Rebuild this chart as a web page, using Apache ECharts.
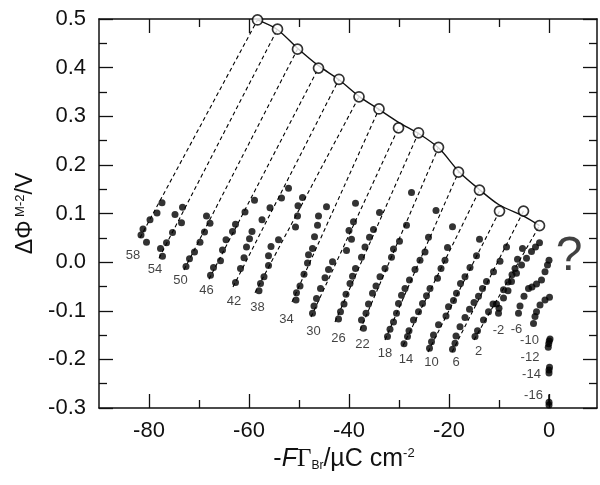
<!DOCTYPE html>
<html><head><meta charset="utf-8">
<script src="https://cdn.jsdelivr.net/npm/echarts@6/dist/echarts.min.js"></script>
<style>html,body{margin:0;padding:0;background:#fff}#c{width:600px;height:485px}</style>
</head><body><div id="c"></div>
<script>
// ---- axis ticks ----
const xTicksMajor = [-80, -60, -40, -20, 0];
const xTicksMinor = [-70, -50, -30, -10];

// ---- filled-dot series (x = -FΓBr, y = ΔΦ / V), labelled by charge ----
const s58 = [[-81.6,0.056],[-81.2,0.068],[-80.5,0.041],[-79.8,0.087],[-78.4,0.101],[-77.4,0.122]];
const s54 = [[-73.3,0.113],[-74.8,0.098],[-73.5,0.081],[-75.3,0.061],[-76.5,0.040],[-77.7,0.028],[-77.3,0.012]];
const s50 = [[-68.5,0.095],[-67.8,0.080],[-68.9,0.062],[-69.8,0.041],[-70.9,0.021],[-71.9,0.007],[-72.6,-0.009]];
const s46 = [[-67.7,-0.027],[-67.1,-0.011],[-65.7,0.003],[-65.3,0.025],[-64.6,0.046],[-63.3,0.063],[-62.7,0.078],[-60.8,0.103],[-58.9,0.127]];
const s42 = [[-62.7,-0.042],[-61.7,-0.013],[-61.0,0.009],[-60.5,0.031],[-59.9,0.048],[-59.4,0.063],[-57.4,0.087],[-55.8,0.112],[-53.5,0.132],[-52.1,0.152]];
const s38 = [[-58.0,-0.059],[-57.7,-0.044],[-57.0,-0.030],[-56.1,-0.007],[-56.1,0.013],[-55.6,0.032],[-54.1,0.046],[-50.7,0.072],[-50.3,0.095],[-50.2,0.116],[-49.3,0.133]];
const s34 = [[-50.6,-0.078],[-50.5,-0.063],[-49.8,-0.049],[-49.0,-0.025],[-48.3,-0.002],[-48.1,0.015],[-47.3,0.028],[-46.9,0.052],[-46.3,0.076],[-46.1,0.095],[-44.5,0.114]];
const s30 = [[-47.3,-0.105],[-47.0,-0.090],[-46.5,-0.075],[-45.7,-0.054],[-44.8,-0.032],[-44.1,-0.015],[-43.3,0.001],[-40.5,0.024],[-39.5,0.047],[-40.0,0.065],[-39.1,0.083],[-38.7,0.121]];
const s26 = [[-42.1,-0.117],[-41.7,-0.102],[-41.0,-0.086],[-40.6,-0.066],[-39.8,-0.044],[-39.3,-0.029],[-38.7,-0.013],[-37.5,0.010],[-36.8,0.031],[-35.9,0.051],[-35.1,0.067],[-33.9,0.102]];
const s22 = [[-37.1,-0.136],[-37.5,-0.119],[-36.6,-0.105],[-36.1,-0.086],[-35.3,-0.064],[-34.6,-0.049],[-33.8,-0.030],[-32.8,-0.013],[-31.5,0.010],[-31.1,0.027],[-29.9,0.043],[-28.5,0.076],[-27.5,0.143]];
const s18 = [[-32.3,-0.153],[-31.8,-0.138],[-31.1,-0.123],[-30.5,-0.105],[-30.1,-0.085],[-29.5,-0.068],[-28.8,-0.054],[-27.9,-0.037],[-26.8,-0.015],[-25.8,0.004],[-24.8,0.021],[-24.1,0.051],[-22.6,0.106]];
const s14 = [[-29.0,-0.168],[-28.3,-0.153],[-28.0,-0.141],[-27.1,-0.119],[-26.1,-0.102],[-25.3,-0.085],[-24.5,-0.069],[-23.8,-0.054],[-22.3,-0.033],[-21.6,-0.013],[-20.8,0.004],[-20.3,0.030],[-19.3,0.073]];
const s10 = [[-23.9,-0.177],[-23.5,-0.164],[-23.1,-0.150],[-22.1,-0.129],[-20.6,-0.111],[-20.1,-0.092],[-19.1,-0.079],[-18.5,-0.064],[-17.7,-0.044],[-16.8,-0.030],[-15.8,-0.011],[-14.5,0.013],[-13.9,0.047]];
const s6  = [[-19.3,-0.179],[-18.8,-0.167],[-18.6,-0.152],[-17.8,-0.133],[-16.8,-0.114],[-15.9,-0.097],[-15.0,-0.083],[-14.1,-0.070],[-13.3,-0.054],[-12.5,-0.040],[-11.1,-0.020],[-9.8,0.002],[-8.5,0.031]];
const s2  = [[-14.8,-0.153],[-14.3,-0.141],[-13.1,-0.119],[-12.1,-0.102],[-11.2,-0.086],[-9.1,-0.057],[-8.2,-0.041],[-7.4,-0.026],[-6.8,-0.013],[-6.3,0.006],[-5.3,0.028]];
const sM2 = [[-10.1,-0.105],[-10.0,-0.095],[-10.5,-0.086],[-9.1,-0.074],[-8.2,-0.059],[-7.5,-0.040],[-6.5,-0.023],[-5.5,-0.006],[-4.5,0.008],[-3.5,0.022],[-2.7,0.031],[-1.9,0.040]];
const sM6 = [[-6.1,-0.105],[-5.8,-0.090],[-5.0,-0.070],[-4.1,-0.054],[-3.4,-0.051],[-2.5,-0.045],[-1.5,-0.037],[-0.8,-0.020],[-0.3,-0.006],[0.0,0.004]];
const sM10 = [[-3.1,-0.126],[-2.8,-0.112],[-2.5,-0.102],[-1.8,-0.088],[-0.8,-0.078],[0.1,-0.072]];
const sM12 = [[-0.15,-0.175],[-0.05,-0.168],[0.05,-0.162],[0.2,-0.158]];
const sM14 = [[0.0,-0.228],[0.0,-0.222],[0.1,-0.216]];
const sM16 = [[0.0,-0.288],[0.0,-0.294]];
const sM16Bar = [[0.0,-0.290],[0.0,-0.272]];

// ---- open circles (extrapolated values) ----
const circleX = [-58.3,-54.3,-50.3,-46.1,-42.0,-38.0,-34.0,-30.1,-26.1,-22.1,-18.1,-13.9,-9.9,-5.1,-1.9];
const circleY = [0.498,0.479,0.438,0.399,0.376,0.340,0.315,0.276,0.266,0.236,0.185,0.148,0.105,0.105,0.075];

// ---- smooth curve through circles ----
const curveX = [-58.3,-54.3,-50.3,-46.1,-42.0,-38.0,-34.0,-30.0,-26.0,-22.0,-18.0,-14.0,-10.0,-5.0,-1.9];
const curveY = [0.498,0.478,0.440,0.404,0.375,0.341,0.314,0.287,0.264,0.234,0.186,0.150,0.118,0.094,0.075];

// ---- dashed extrapolation lines: lower ends (upper ends are the circles) ----
const dashLowX = [-81.8,-78.0,-73.0,-68.0,-63.2,-58.8,-51.4,-47.6,-42.8,-37.8,-32.8,-29.2,-24.2,-19.4,-15.0];
const dashLowY = [0.050,0.008,-0.016,-0.035,-0.051,-0.063,-0.082,-0.113,-0.123,-0.140,-0.160,-0.172,-0.185,-0.185,-0.160];

// ---- series labels ----
const labelText = ['58','54','50','46','42','38','34','30','26','22','18','14','10','6','2','-2','-6','-10','-12','-14','-16'];
const labelX = [-83.2,-78.8,-73.7,-68.5,-63.0,-58.3,-52.5,-47.1,-42.1,-37.3,-32.8,-28.6,-23.5,-18.6,-14.1,-10.1,-6.5,-3.9,-3.8,-3.5,-3.1];
const labelY = [0.013,-0.016,-0.037,-0.059,-0.080,-0.094,-0.117,-0.142,-0.157,-0.169,-0.188,-0.201,-0.207,-0.207,-0.184,-0.140,-0.138,-0.162,-0.196,-0.230,-0.275];

const questionPos = [4.0, 0.012];

const dotSets = [s58,s54,s50,s46,s42,s38,s34,s30,s26,s22,s18,s14,s10,s6,s2,sM2,sM6,sM10,sM12,sM14,sM16];

const FONT = 'Liberation Sans, Arial, sans-serif';
const INK = '#111';

const chart = echarts.init(document.getElementById('c'), null, {renderer: 'canvas'});

const mkX = (pos, ticks, len, showLine, label, extra) => Object.assign({
  type: 'value', gridIndex: 0, position: pos, min: -90, max: 9.6,
  axisLine: {show: showLine, onZero: false, lineStyle: {color: INK, width: 1.5}},
  axisTick: {show: true, inside: true, length: len, customValues: ticks, lineStyle: {color: INK, width: 1.3}},
  axisLabel: label ? {show: true, customValues: ticks, fontSize: 22, color: INK, fontFamily: FONT, margin: 12} : {show: false},
  splitLine: {show: false}
}, extra || {});

const mkY = (pos, label) => ({
  type: 'value', gridIndex: 0, position: pos, min: -0.3, max: 0.5, interval: 0.1,
  axisLine: {show: true, onZero: false, lineStyle: {color: INK, width: 1.5}},
  axisTick: {show: true, inside: true, length: 14, lineStyle: {color: INK, width: 1.3}},
  minorTick: {show: true, splitNumber: 2, length: 8, lineStyle: {color: INK, width: 1.3}},
  axisLabel: label ? {show: true, fontSize: 22, color: INK, fontFamily: FONT, margin: 13,
    formatter: v => (Math.abs(v) < 1e-9 ? 0 : v).toFixed(1)} : {show: false},
  splitLine: {show: false}, minorSplitLine: {show: false}
});

const series = [];

// dashed lines
for (let i = 0; i < circleX.length; i++) {
  series.push({
    type: 'line', xAxisIndex: 0, yAxisIndex: 0, symbol: 'none', silent: true, z: 2,
    data: [[dashLowX[i], dashLowY[i]], [circleX[i], circleY[i]]],
    lineStyle: {color: '#000', width: 1.1, type: [4, 3]}
  });
}
// curve
series.push({
  type: 'line', symbol: 'none', smooth: 0.3, silent: true, z: 3,
  data: curveX.map((x, i) => [x, curveY[i]]),
  lineStyle: {color: INK, width: 1.4}
});
// circles
series.push({
  type: 'scatter', symbol: 'circle', symbolSize: 10, z: 5,
  data: circleX.map((x, i) => [x, circleY[i]]),
  itemStyle: {color: '#fff', borderColor: '#000', borderWidth: 1.7}
});
// -16 bar
series.push({
  type: 'line', symbol: 'none', silent: true, z: 3, data: sM16Bar,
  lineStyle: {color: INK, width: 1.6}
});
// dots
dotSets.forEach(d => series.push({
  type: 'scatter', symbol: 'circle', symbolSize: 7, z: 4, data: d,
  itemStyle: {color: '#000'}
}));
// labels
series.push({
  type: 'scatter', symbolSize: 0, z: 6, silent: true,
  data: labelText.map((t, i) => [labelX[i], labelY[i], t]),
  label: {show: true, position: 'inside', formatter: p => p.value[2], fontSize: 13, color: INK, fontFamily: FONT}
});
// question mark
series.push({
  type: 'scatter', symbolSize: 0, z: 6, silent: true,
  data: [[questionPos[0], questionPos[1], '?']],
  label: {show: true, position: 'inside', formatter: p => p.value[2], fontSize: 48, color: INK, fontFamily: FONT}
});

chart.setOption({
  animation: false,
  backgroundColor: '#fff',
  grid: {left: 99, top: 19, width: 498, height: 389, containLabel: false, outerBoundsMode: 'none'},
  xAxis: [
    mkX('bottom', xTicksMajor, 14, true, true, {
      name: '{a|-}{i|F}{g|Γ}{sub|Br}{a|/µC cm}{sup|-2}',
      nameLocation: 'middle', nameGap: 35,
      nameTextStyle: {padding: [0, 8, 0, 0], rich: {
        a: {fontSize: 25, color: INK, fontFamily: FONT},
        i: {fontSize: 25, color: INK, fontFamily: FONT, fontStyle: 'italic'},
        g: {fontSize: 25, color: INK, fontFamily: 'Liberation Serif, serif'},
        sub: {fontSize: 12, color: INK, fontFamily: FONT, verticalAlign: 'bottom'},
        sup: {fontSize: 13, color: INK, fontFamily: FONT, verticalAlign: 'top'}
      }}
    }),
    mkX('bottom', xTicksMinor, 8, false, false),
    mkX('top', xTicksMajor, 14, true, false),
    mkX('top', xTicksMinor, 8, false, false)
  ],
  yAxis: [
    Object.assign(mkY('left', true), {
      name: '{a|ΔΦ}{s| M-2}{a|/V}',
      nameLocation: 'middle', nameRotate: 90, nameGap: 57,
      nameTextStyle: {rich: {
        a: {fontSize: 23, color: INK, fontFamily: FONT},
        s: {fontSize: 13, color: INK, fontFamily: FONT, verticalAlign: 'top'}
      }}
    }),
    mkY('right', false)
  ],
  series: series
});
</script>
</body></html>
